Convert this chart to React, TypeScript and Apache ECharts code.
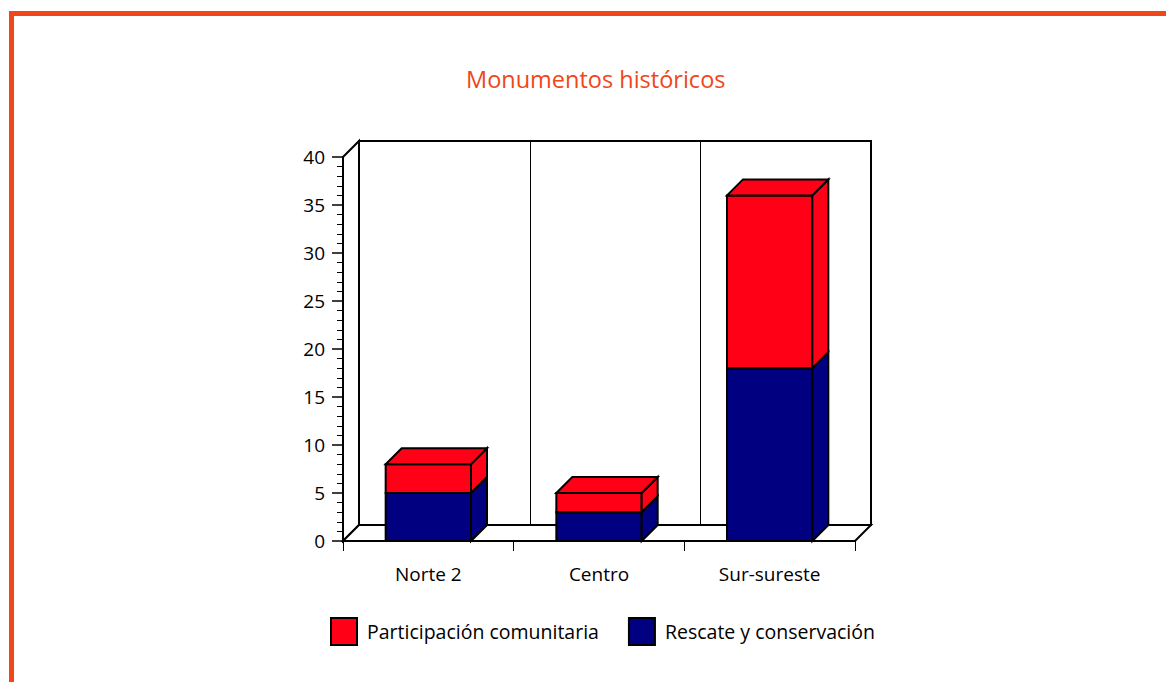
import React, { useEffect, useRef } from "react";
import * as echarts from "echarts";

const categories = ["Norte 2", "Centro", "Sur-sureste"];
const rescate = [5, 3, 18];
const participacion = [3, 2, 18];
const yTicks = { min: 0, max: 40, interval: 5 };
const seriesNames = ["Participación comunitaria", "Rescate y conservación"];

const RED = "#FF0016";
const BLUE = "#000080";
const ORANGE = "#F0461A";
const FONT = "Open Sans";
const DEPTH = 16;

function barRenderer(color: string, isTop: boolean) {
  return (params: any, api: any) => {
    const i = api.value(0);
    const b = api.value(1);
    const t = api.value(2);
    const p0 = api.coord([i, b]);
    const p1 = api.coord([i, t]);
    const w = api.size([1, 0])[0] * 0.5;
    const x0 = p0[0] - w / 2;
    const x1 = p0[0] + w / 2;
    const d = DEPTH;
    const style = { fill: color, stroke: "#000", lineWidth: 2, lineJoin: "miter" };
    const children: any[] = [
      {
        type: "rect",
        shape: { x: x0, y: p1[1], width: w, height: p0[1] - p1[1] },
        style,
      },
      {
        type: "polygon",
        shape: {
          points: [
            [x1, p0[1]],
            [x1 + d, p0[1] - d],
            [x1 + d, p1[1] - d],
            [x1, p1[1]],
          ],
        },
        style,
      },
    ];
    if (isTop) {
      children.push({
        type: "polygon",
        shape: {
          points: [
            [x0, p1[1]],
            [x0 + d, p1[1] - d],
            [x1 + d, p1[1] - d],
            [x1, p1[1]],
          ],
        },
        style,
      });
    }
    return { type: "group", children };
  };
}

function frameRenderer(params: any) {
  const cs = params.coordSys;
  const gx = cs.x;
  const gy = cs.y;
  const gw = cs.width;
  const gh = cs.height;
  const d = DEPTH;
  const style = { fill: "#fff", stroke: "#000", lineWidth: 2 };
  const n = categories.length;
  const children: any[] = [
    {
      type: "rect",
      shape: { x: gx + d, y: gy - d, width: gw, height: gh },
      style,
    },
    {
      type: "polygon",
      shape: {
        points: [
          [gx, gy],
          [gx + d, gy - d],
          [gx + d, gy + gh - d],
          [gx, gy + gh],
        ],
      },
      style,
    },
    {
      type: "polygon",
      shape: {
        points: [
          [gx, gy + gh],
          [gx + gw, gy + gh],
          [gx + gw + d, gy + gh - d],
          [gx + d, gy + gh - d],
        ],
      },
      style,
    },
  ];
  for (let k = 1; k < n; k++) {
    const x = Math.round(gx + d + (k * gw) / n) + 0.5;
    children.push({
      type: "line",
      shape: { x1: x, y1: gy - d, x2: x, y2: gy + gh - d },
      style: { stroke: "#000", lineWidth: 1 },
    });
  }
  return { type: "group", children };
}

export default function App() {
  const ref = useRef<HTMLDivElement>(null);
  useEffect(() => {
    const chart = echarts.init(ref.current!, undefined, { renderer: "svg" });
    const blueData = categories.map((_, i) => [i, 0, rescate[i]]);
    const redData = categories.map((_, i) => [i, rescate[i], rescate[i] + participacion[i]]);
    chart.setOption({
      animation: false,
      backgroundColor: "#fff",
      title: {
        text: "Monumentos históricos",
        left: 466,
        top: 67,
        padding: 0,
        textStyle: { color: ORANGE, fontSize: 23.5, fontWeight: "normal", fontFamily: FONT },
      },
      graphic: [
        { type: "rect", shape: { x: 9, y: 11, width: 1157, height: 5 }, style: { fill: ORANGE } },
        { type: "rect", shape: { x: 9, y: 11, width: 5, height: 671 }, style: { fill: ORANGE } },
      ],
      legend: {
        left: 330,
        top: 617,
        padding: 0,
        itemWidth: 26,
        itemHeight: 27,
        itemGap: 29,
        icon: "rect",
        textStyle: { fontSize: 19.5, color: "#000", fontFamily: FONT, padding: [0, 0, 0, 5] },
        data: [
          { name: seriesNames[0], itemStyle: { color: RED, borderColor: "#000", borderWidth: 2 } },
          { name: seriesNames[1], itemStyle: { color: BLUE, borderColor: "#000", borderWidth: 2 } },
        ],
      },
      grid: { left: 343, top: 157, width: 512, height: 384 },
      xAxis: {
        type: "category",
        data: categories,
        boundaryGap: true,
        z: 10,
        axisLine: { lineStyle: { color: "#000", width: 2 } },
        axisTick: { show: true, length: 10, interval: 0, lineStyle: { color: "#000", width: 1 } },
        axisLabel: { fontSize: 19, color: "#000", fontFamily: FONT, margin: 23 },
        splitLine: { show: false },
      },
      yAxis: {
        type: "value",
        min: yTicks.min,
        max: yTicks.max,
        interval: yTicks.interval,
        z: 10,
        axisLine: { show: true, lineStyle: { color: "#000", width: 2 } },
        axisTick: { show: true, length: 11, lineStyle: { color: "#000", width: 1.5 } },
        minorTick: { show: true, splitNumber: 5, length: 6, lineStyle: { color: "#000", width: 1 } },
        axisLabel: { fontSize: 19, color: "#000", fontFamily: FONT, margin: 18 },
        splitLine: { show: false },
      },
      series: [
        {
          type: "custom",
          name: "frame",
          z: 1,
          silent: true,
          renderItem: frameRenderer,
          data: [[0, 0, 0]],
          encode: { x: 0, y: 1 },
        },
        {
          type: "custom",
          name: seriesNames[1],
          z: 3,
          itemStyle: { color: BLUE },
          renderItem: barRenderer(BLUE, false),
          data: blueData,
          encode: { x: 0, y: [1, 2] },
        },
        {
          type: "custom",
          name: seriesNames[0],
          z: 4,
          itemStyle: { color: RED },
          renderItem: barRenderer(RED, true),
          data: redData,
          encode: { x: 0, y: [1, 2] },
        },
      ],
    });
    return () => chart.dispose();
  }, []);
  return (
    <div
      ref={ref}
      style={{ position: "fixed", left: 0, top: 0, width: 1166, height: 682, background: "#fff" }}
    />
  );
}
